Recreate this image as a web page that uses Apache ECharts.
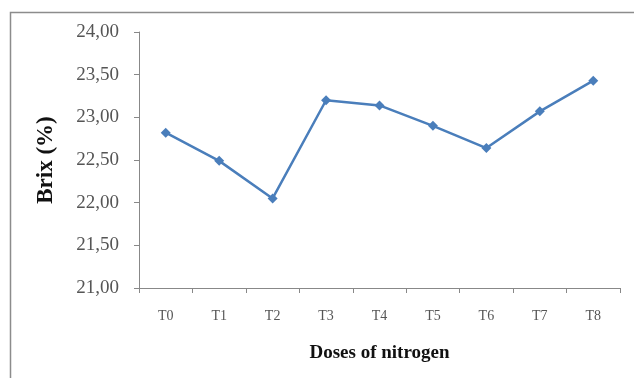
<!DOCTYPE html>
<html><head><meta charset="utf-8">
<script src="https://cdn.jsdelivr.net/npm/echarts@6/dist/echarts.min.js"></script>
<style>html,body{margin:0;padding:0;background:#fff}#c{width:634px;height:378px}</style>
</head><body><div id="c"></div>
<script>
const categories = ['T0','T1','T2','T3','T4','T5','T6','T7','T8'];
const brix = [22.82, 22.49, 22.05, 23.20, 23.14, 22.90, 22.64, 23.07, 23.43];
const yTicks = [21, 21.5, 22, 22.5, 23, 23.5, 24];

const chart = echarts.init(document.getElementById('c'), null, {renderer:'canvas'});
const font = '"Liberation Serif", "Times New Roman", serif';
chart.setOption({
  animation:false,
  backgroundColor:'#fff',
  graphic:[{type:'rect', shape:{x:10.5,y:12.5,width:700,height:500}, style:{fill:'none', stroke:'#8c8c8c', lineWidth:1.5}, silent:true}],
  grid:{left:139, right:14, top:32, bottom:90, containLabel:false},
  xAxis:{
    type:'category', data:categories, boundaryGap:true,
    name:'Doses of nitrogen', nameLocation:'middle', nameGap:56,
    nameTextStyle:{fontFamily:font, fontSize:19, fontWeight:'bold', color:'#111'},
    axisLine:{lineStyle:{color:'#888', width:1}},
    axisTick:{show:true, alignWithLabel:false, length:5, lineStyle:{color:'#888'}},
    axisLabel:{fontFamily:font, fontSize:14, color:'#555', margin:21}
  },
  yAxis:{
    type:'value', min:yTicks[0], max:yTicks[yTicks.length-1], interval:0.5,
    name:'Brix (%)', nameLocation:'middle', nameGap:81, nameRotate:90,
    nameTextStyle:{fontFamily:font, fontSize:23, fontWeight:'bold', color:'#111'},
    axisLine:{show:true, lineStyle:{color:'#888', width:1}},
    axisTick:{show:true, length:5, lineStyle:{color:'#888'}},
    splitLine:{show:false},
    axisLabel:{fontFamily:font, fontSize:19, color:'#555', margin:20,
      formatter:v=>v.toFixed(2).replace('.',',')}
  },
  series:[{
    type:'line', data:brix, symbol:'diamond', symbolSize:10,
    lineStyle:{color:'#4a7ebb', width:2.5},
    itemStyle:{color:'#4a7ebb'}
  }]
});
</script></body></html>
